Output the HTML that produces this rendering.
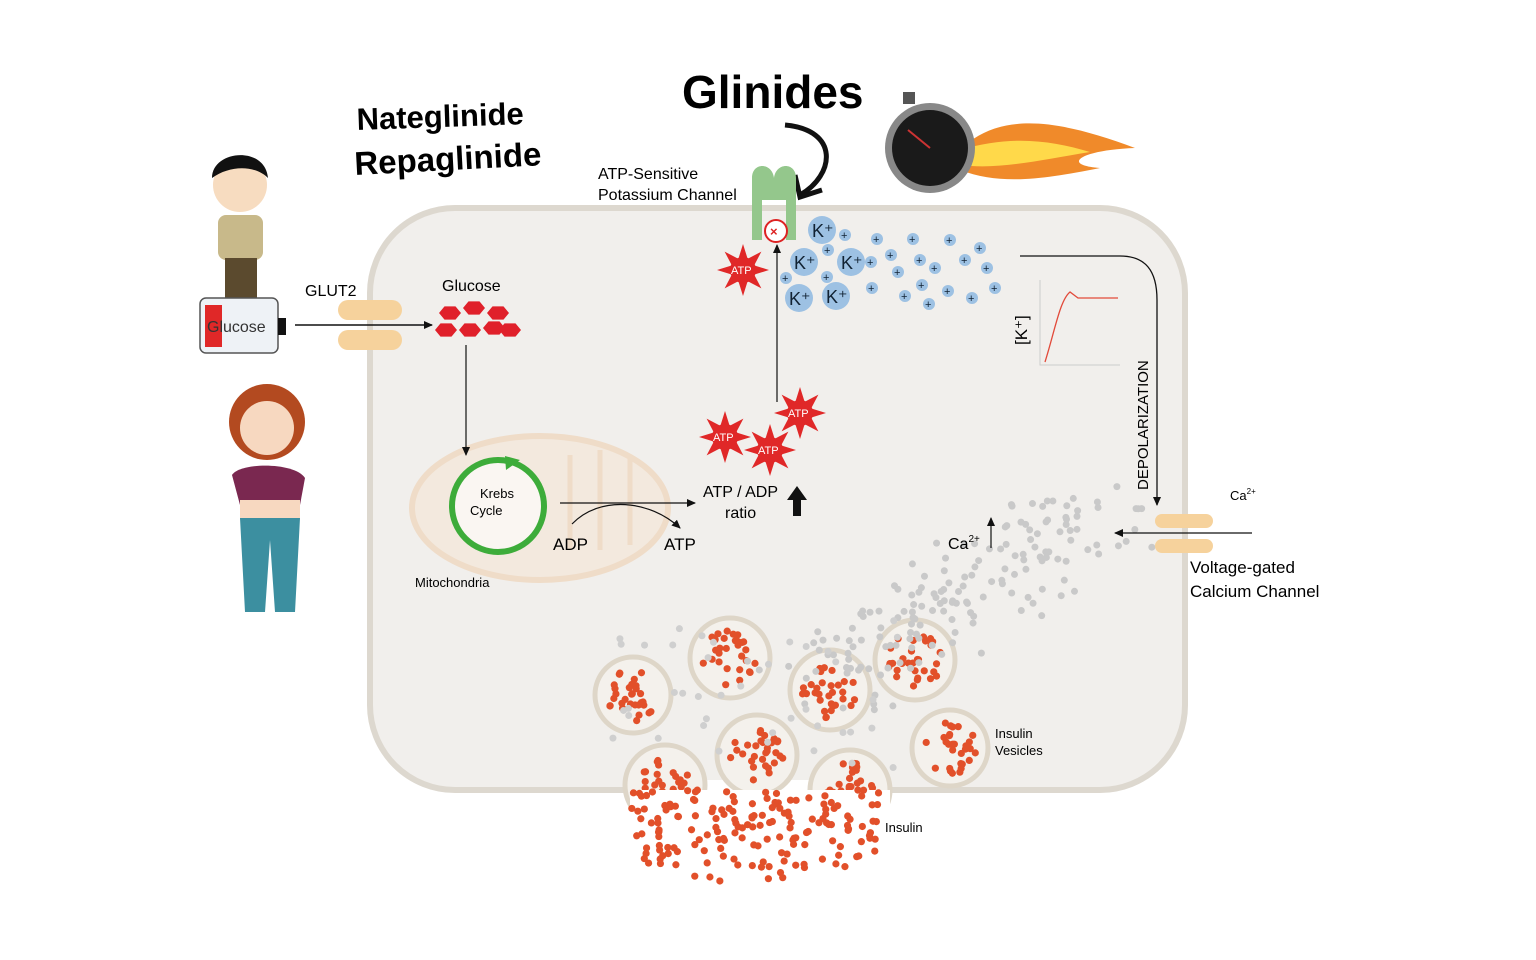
<!DOCTYPE html>
<html><head><meta charset="utf-8"><style>
html,body{margin:0;padding:0;background:#fff;width:1536px;height:960px;overflow:hidden}
svg{display:block}
text{font-family:"Liberation Sans",sans-serif}
.hw{font-family:"Liberation Sans",sans-serif;font-weight:bold}
</style></head><body>
<svg id="s" width="1536" height="960" viewBox="0 0 1536 960" xmlns="http://www.w3.org/2000/svg">
<defs>
<marker id="ar" markerWidth="10" markerHeight="10" refX="8" refY="5" orient="auto" markerUnits="userSpaceOnUse"><path d="M0,1 L9,5 L0,9 z" fill="#111"/></marker>
</defs>
<rect x="370" y="208" width="815" height="582" rx="85" fill="#f1efec" stroke="#ddd8cf" stroke-width="6"/>
<rect x="640" y="780" width="240" height="16" fill="#fff"/>
<text x="357" y="130" class="hw" font-size="31" transform="rotate(-2 357 130)">Nateglinide</text>
<text x="355" y="175" class="hw" font-size="33" transform="rotate(-3 355 175)">Repaglinide</text>
<text x="682" y="108" class="hw" font-size="46">Glinides</text>
<path d="M785,125 C840,130 835,175 800,195" fill="none" stroke="#111" stroke-width="5"/>
<path d="M795,175 L800,197 L822,190" fill="none" stroke="#111" stroke-width="5"/>
<path d="M960,150 C1000,110 1060,120 1135,148 C1080,150 1060,165 1100,168 C1040,180 1000,185 960,170 z" fill="#f08a2a"/>
<path d="M960,150 C1010,135 1050,140 1090,152 C1040,160 1000,170 960,165 z" fill="#ffd94a"/>
<rect x="903" y="92" width="12" height="12" fill="#555"/>
<circle cx="930" cy="148" r="45" fill="#888"/>
<circle cx="930" cy="148" r="38" fill="#1a1a1a"/>
<line x1="930" y1="148" x2="908" y2="130" stroke="#c33" stroke-width="2"/>
<circle cx="240" cy="185" r="27" fill="#f7dcc0"/>
<path d="M212,178 C212,150 265,145 268,178 C255,165 230,165 212,178z" fill="#111"/>
<rect x="218" y="215" width="45" height="45" rx="8" fill="#c8b98a"/>
<rect x="225" y="258" width="32" height="40" fill="#5b4a2e"/>
<rect x="200" y="298" width="78" height="55" rx="6" fill="#eef2f6" stroke="#555" stroke-width="1.5"/>
<rect x="205" y="305" width="17" height="42" fill="#e02828"/>
<rect x="278" y="318" width="8" height="17" fill="#111"/>
<text x="207" y="332" font-size="16" fill="#333">Glucose</text>
<circle cx="267" cy="422" r="38" fill="#b34a20"/>
<circle cx="267" cy="428" r="27" fill="#f7d8c0"/>
<path d="M232,475 C240,462 295,462 305,478 L300,505 L240,505z" fill="#7a2850"/>
<rect x="240" y="500" width="60" height="20" fill="#f7d8c0"/>
<path d="M240,518 L300,518 L295,612 L275,612 L270,540 L265,612 L245,612z" fill="#3c8fa0"/>
<text x="305" y="296" font-size="16">GLUT2</text>
<rect x="338" y="300" width="64" height="20" rx="10" fill="#f6d29c"/>
<rect x="338" y="330" width="64" height="20" rx="10" fill="#f6d29c"/>
<line x1="295" y1="325" x2="432" y2="325" stroke="#111" stroke-width="1.5" marker-end="url(#ar)"/>
<text x="442" y="291" font-size="16">Glucose</text>
<g id="hex" fill="#e0202a"></g>
<ellipse cx="540" cy="508" rx="128" ry="72" fill="#f3e9de" stroke="#efdcc8" stroke-width="6"/>
<path d="M600,450 v100 M630,455 v90 M570,455 v95" stroke="#efdcc8" stroke-width="5" fill="none"/>
<line x1="466" y1="345" x2="466" y2="455" stroke="#111" stroke-width="1.2" marker-end="url(#ar)"/>
<circle cx="498" cy="506" r="46" fill="#fff" fill-opacity=".6" stroke="#3dac3a" stroke-width="6"/>
<path d="M505,456 L520,460 L506,470z" fill="#3dac3a"/>
<text x="480" y="498" font-size="13">Krebs</text>
<text x="470" y="515" font-size="13">Cycle</text>
<text x="415" y="587" font-size="13">Mitochondria</text>
<line x1="560" y1="503" x2="695" y2="503" stroke="#111" stroke-width="1.2" marker-end="url(#ar)"/>
<path d="M572,524 C600,495 650,500 680,528" fill="none" stroke="#111" stroke-width="1.2" marker-end="url(#ar)"/>
<text x="553" y="550" font-size="17">ADP</text>
<text x="664" y="550" font-size="17">ATP</text>
<text x="703" y="497" font-size="16">ATP / ADP</text>
<text x="725" y="518" font-size="16">ratio</text>
<path d="M797,486 L807,500 L801,500 L801,516 L793,516 L793,500 L787,500z" fill="#111"/>
<g id="atp"></g>
<line x1="777" y1="402" x2="777" y2="245" stroke="#111" stroke-width="1.2" marker-end="url(#ar)"/>
<text x="598" y="179" font-size="16">ATP-Sensitive</text>
<text x="598" y="200" font-size="16">Potassium Channel</text>
<path d="M752,240 L752,178 C752,162 772,162 774,178 C776,162 796,162 796,178 L796,240 L786,240 L786,200 L762,200 L762,240z" fill="#94c78c"/>
<circle cx="776" cy="231" r="11" fill="#fff" stroke="#d22" stroke-width="2"/>
<text x="770" y="236" font-size="13" fill="#d22" font-weight="bold">×</text>
<g id="k"></g>
<path d="M1040,280 V365 H1120" fill="none" stroke="#ccc" stroke-width="1"/>
<path d="M1045,362 C1055,330 1060,300 1070,292 L1078,298 H1118" fill="none" stroke="#e24a3a" stroke-width="1.3"/>
<text x="1027" y="345" font-size="17" transform="rotate(-90 1027 345)">[K⁺]</text>
<path d="M1020,256 H1120 C1145,256 1157,270 1157,300 V505" fill="none" stroke="#111" stroke-width="1.3" marker-end="url(#ar)"/>
<text x="1148" y="490" font-size="15" transform="rotate(-90 1148 490)">DEPOLARIZATION</text>
<g id="ves"></g>
<g id="ca"></g>
<rect x="1155" y="514" width="58" height="14" rx="7" fill="#f6d29c"/>
<rect x="1155" y="539" width="58" height="14" rx="7" fill="#f6d29c"/>
<line x1="1252" y1="533" x2="1115" y2="533" stroke="#111" stroke-width="1.2" marker-end="url(#ar)"/>
<text x="1230" y="500" font-size="13">Ca<tspan font-size="8" dy="-6">2+</tspan></text>
<text x="948" y="549" font-size="16">Ca<tspan font-size="10" dy="-7">2+</tspan></text>
<line x1="991" y1="548" x2="991" y2="518" stroke="#111" stroke-width="1.2" marker-end="url(#ar)"/>
<text x="1190" y="573" font-size="17">Voltage-gated</text>
<text x="1190" y="597" font-size="17">Calcium Channel</text>
<text x="995" y="738" font-size="13">Insulin</text>
<text x="995" y="755" font-size="13">Vesicles</text>
<text x="885" y="832" font-size="13">Insulin</text>
</svg>
<script>
var NS="http://www.w3.org/2000/svg",seed=7;function r(){seed=(seed*9301+49297)%233280;return seed/233280}
function el(p,t,a){var e=document.createElementNS(NS,t);for(var k in a)e.setAttribute(k,a[k]);document.getElementById(p).appendChild(e);return e}
[[450,313],[474,308],[498,313],[446,330],[470,330],[494,328],[510,330]].forEach(function(c){var x=c[0],y=c[1],s=11,p=[];for(var i=0;i<6;i++){var a=Math.PI/3*i;p.push((x+s*Math.cos(a))+","+(y+s*0.7*Math.sin(a)))}el("hex","polygon",{points:p.join(" ")})});
[[743,270],[725,437],[770,450],[800,413]].forEach(function(c){var x=c[0],y=c[1];for(var i=0;i<8;i++){var a=Math.PI/4*i;el("atp","polygon",{points:(x+26*Math.cos(a))+","+(y+26*Math.sin(a))+" "+(x+12*Math.cos(a+.4))+","+(y+12*Math.sin(a+.4))+" "+(x+12*Math.cos(a-.4))+","+(y+12*Math.sin(a-.4)),fill:"#e02828"})}el("atp","circle",{cx:x,cy:y,r:13,fill:"#e02828"});var t=el("atp","text",{x:x-12,y:y+4,"font-size":"11",fill:"#fff"});t.textContent="ATP"});
[[822,230],[804,262],[851,262],[799,298],[836,296]].forEach(function(c){el("k","circle",{cx:c[0],cy:c[1],r:14,fill:"#9dc1e3"});var t=el("k","text",{x:c[0]-10,y:c[1]+7,"font-size":"18",fill:"#123"});t.textContent="K⁺"});
[[845,235],[877,239],[913,239],[950,240],[980,248],[828,250],[871,262],[891,255],[920,260],[935,268],[965,260],[987,268],[898,272],[786,278],[827,277],[872,288],[905,296],[922,285],[948,291],[972,298],[995,288],[929,304]].forEach(function(c){el("k","circle",{cx:c[0],cy:c[1],r:6,fill:"#9dc1e3"});var t=el("k","text",{x:c[0]-4,y:c[1]+4,"font-size":"11",fill:"#123"});t.textContent="+"});
for(var i=0;i<170;i++){var t=r(),x=1100-t*280+(r()-.5)*150,y=510+t*180+(r()-.5)*60;if(x>1080&&y>560)continue;el("ca","circle",{cx:x,cy:y,r:3.5,fill:"#c9c9c9"})}
for(var i=0;i<40;i++){el("ca","circle",{cx:600+r()*300,cy:620+r()*150,r:3.5,fill:"#cfcfcf"})}
[[633,695,38],[730,658,40],[830,690,40],[915,660,40],[950,748,38],[757,755,40],[665,785,40],[850,790,40]].forEach(function(c){el("ves","circle",{cx:c[0],cy:c[1],r:c[2],fill:"#f4f1ec",stroke:"#ded6c8","stroke-width":5});for(var j=0;j<30;j++){var a=r()*6.28,d=Math.sqrt(r())*c[2]*.7;el("ves","circle",{cx:c[0]+d*Math.cos(a),cy:c[1]+d*Math.sin(a),r:3.6,fill:"#e2502a"})}});
el("ves","rect",{x:630,y:790,width:260,height:100,fill:"#fff"});
for(var i=0;i<190;i++){var x=630+r()*250,y=790+r()*95,dx=(x-755)/125;if(y>885-30*dx*dx)continue;el("ves","circle",{cx:x,cy:y,r:3.6,fill:"#e2502a"})}
</script>
</body></html>
